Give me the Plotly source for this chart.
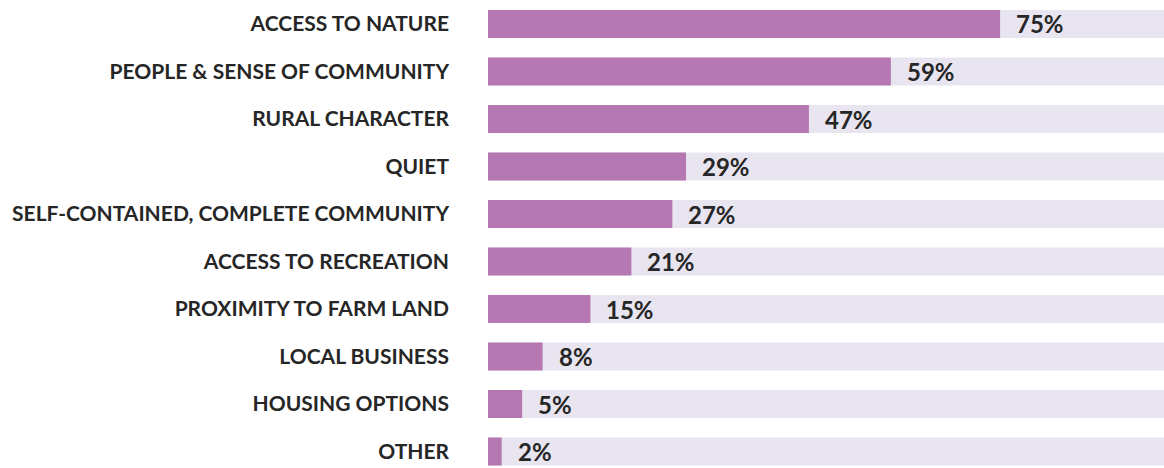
import plotly.graph_objects as go

categories = [
    "ACCESS TO NATURE",
    "PEOPLE & SENSE OF COMMUNITY",
    "RURAL CHARACTER",
    "QUIET",
    "SELF-CONTAINED, COMPLETE COMMUNITY",
    "ACCESS TO RECREATION",
    "PROXIMITY TO FARM LAND",
    "LOCAL BUSINESS",
    "HOUSING OPTIONS",
    "OTHER",
]
values = [75, 59, 47, 29, 27, 21, 15, 8, 5, 2]
track_max = 100

positions = list(range(len(categories)))

BAR = "#B578B2"
TRACK = "#E8E5F1"
TEXT = "#262626"
FONT = "Lato"

fig = go.Figure()

# full-width background track for every row
fig.add_trace(go.Bar(
    y=positions, x=[track_max] * len(categories), orientation="h",
    marker=dict(color=TRACK, line=dict(width=0)),
    hoverinfo="skip", showlegend=False,
))

# share of respondents
fig.add_trace(go.Bar(
    y=positions, x=values, orientation="h",
    marker=dict(color=BAR, line=dict(width=0)),
    showlegend=False,
))

for p, v in zip(positions, values):
    fig.add_annotation(
        x=v, y=p, text=f"{v}%", showarrow=False,
        xanchor="left", yanchor="middle", xshift=14,
        font=dict(family=FONT, size=24, color=TEXT, weight="bold"),
    )

fig.update_layout(
    width=1164, height=468,
    margin=dict(l=488, r=0, t=0, b=0),
    paper_bgcolor="white", plot_bgcolor="white",
    barmode="overlay", bargap=0.41,
    xaxis=dict(range=[0, 99], visible=False, fixedrange=True),
    yaxis=dict(
        range=[9.347, -0.505],
        tickvals=positions, ticktext=categories,
        ticks="", showgrid=False, zeroline=False, showline=False,
        ticklabelstandoff=38,
        tickfont=dict(family=FONT, size=21, color=TEXT, weight="bold"),
    ),
)

fig.write_html("out.html")
